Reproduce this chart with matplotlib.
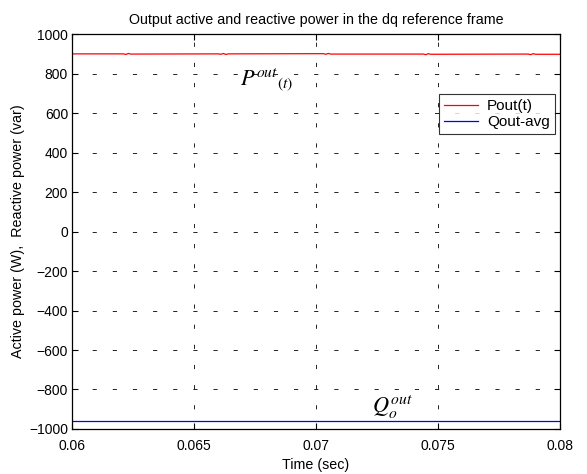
import matplotlib
matplotlib.use("Agg")
import matplotlib.pyplot as plt

plt.rcParams['font.family'] = ['Liberation Sans', 'DejaVu Sans']
plt.rcParams['mathtext.fontset'] = 'stix'
plt.rcParams['lines.scale_dashes'] = False

# active power Pout(t): near-constant with small ripples
t_p = [0.06, 0.0621, 0.0622, 0.0623, 0.0624, 0.0660, 0.0661, 0.0662, 0.0663, 0.0664,
       0.0703, 0.0704, 0.0705, 0.0706, 0.0744, 0.0745, 0.0746, 0.0747, 0.0787, 0.0788,
       0.0789, 0.0790, 0.08]
p_out = [900, 900, 897, 902, 899, 900, 898, 902, 897, 900,
         901, 898, 902, 899, 899, 896, 901, 898, 899, 896,
         901, 898, 898]

# reactive power average
t_q = [0.06, 0.08]
q_avg = [-962, -962]

fig, ax = plt.subplots(figsize=(5.87, 4.74), dpi=100)
fig.subplots_adjust(left=0.123, right=0.954, top=0.928, bottom=0.095)

ax.plot(t_p, p_out, color='red', lw=0.9, label='Pout(t)')
ax.plot(t_q, q_avg, color='blue', lw=0.9, label='Qout-avg')

ax.set_xlim(0.06, 0.08)
ax.set_ylim(-1000, 1000)
ax.set_xticks([0.06, 0.065, 0.07, 0.075, 0.08])
ax.set_xticklabels(['0.06', '0.065', '0.07', '0.075', '0.08'])
ax.set_yticks(range(-1000, 1001, 200))
ax.tick_params(direction='in', top=True, right=True, labelsize=10, length=4, pad=3)
ax.tick_params(axis='x', pad=7)
ax.grid(True, color='black', linestyle=(0, (3, 11.5)), linewidth=0.6)
for s in ax.spines.values():
    s.set_linewidth(0.9)

ax.set_title('Output active and reactive power in the dq reference frame', fontsize=10.3, pad=7)
ax.set_xlabel('Time (sec)', fontsize=10.3, labelpad=4)
ax.set_ylabel('Active power (W),  Reactive power (var)', fontsize=10.3, labelpad=3)

ax.text(0.06689, 742, r'${P^{out}}_{(t)}$', fontsize=16, ha='left', va='baseline')
ax.text(0.0723, -919, r'$Q_o^{out}$', fontsize=16, ha='left', va='baseline')

leg = ax.legend(loc='upper right', bbox_to_anchor=(0.99, 0.848), fontsize=11, frameon=True,
                fancybox=False, edgecolor='black', handlelength=2.2, borderpad=0.35,
                labelspacing=0.1, handletextpad=0.6, borderaxespad=0)
leg.get_frame().set_linewidth(0.8)

fig.savefig('out.png', dpi=100)
